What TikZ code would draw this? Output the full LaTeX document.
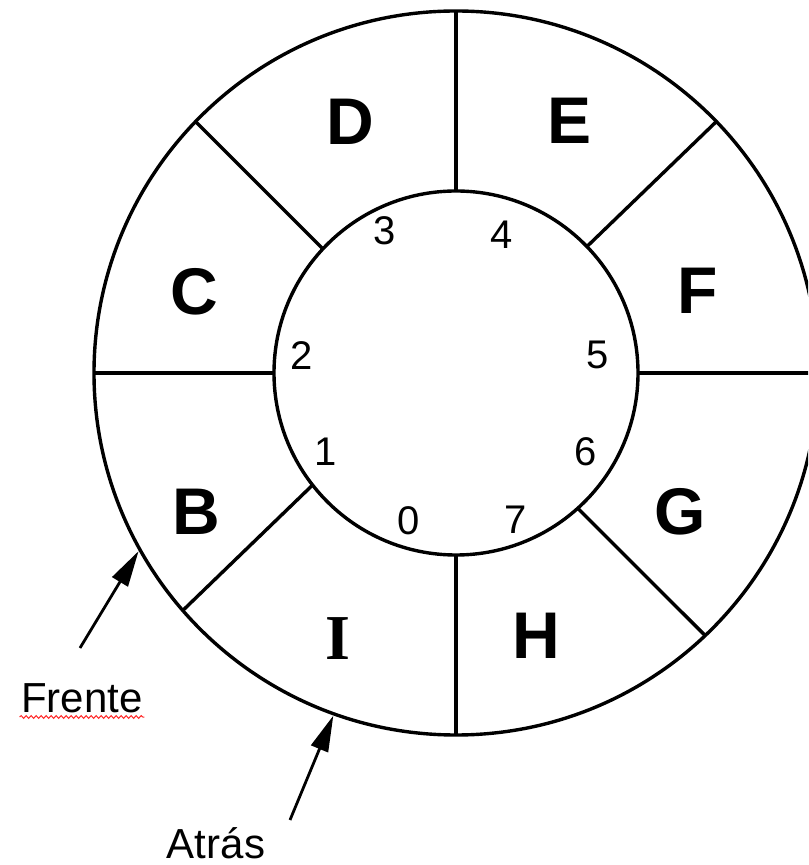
\documentclass[tikz,border=0pt]{standalone}
\usepackage{fontspec}
\setmainfont{Liberation Sans}
\newfontfamily\romanI{Liberation Serif}
\usetikzlibrary{arrows.meta,decorations.pathmorphing}

\begin{document}
\begin{tikzpicture}[x=.5pt,y=.5pt,line width=1.7pt,
  slot/.style={font=\fontsize{33}{33}\selectfont\bfseries,inner sep=0pt},
  idx/.style={font=\fontsize{20}{20}\selectfont,inner sep=0pt},
  ptr/.style={-{Triangle[length=18pt,width=9pt]},line width=1.4pt}]
\clip (-456,-492) rectangle (352,373);
\coordinate (O) at (0,0);
\draw (O) circle (362) (O) circle (182);
\foreach \a/\b in {0/0,44/44,90/90,137/136,180/180,218/221,270/270,312/313.5}
  \draw (\a:182)--(\b:362);
% slots
\node[slot] (D) at (-106,251) {D};
\node[slot] (E) at (114,252) {E};
\node[slot] (C) at (-262,81) {C};
\node[slot] (F) at (242,82) {F};
\node[slot] (B) at (-260,-139) {B};
\node[slot] (G) at (224,-139) {G};
\node[slot] (H) at (80,-263) {H};
\node[slot,font=\fontsize{32}{32}\selectfont\romanI\bfseries] (I) at (-118,-266) {I};
% indices
\node[idx] (i0) at (-47,-148) {0};
\node[idx] (i1) at (-130,-79) {1};
\node[idx] (i2) at (-154,17) {2};
\node[idx] (i3) at (-71,142) {3};
\node[idx] (i4) at (46,138) {4};
\node[idx] (i5) at (142,18) {5};
\node[idx] (i6) at (130,-79) {6};
\node[idx] (i7) at (60,-147) {7};
% pointers
\coordinate (frenteTail) at (-376,-275);
\coordinate (frenteTip) at (209.3:364);
\coordinate (atrasTail) at (-166,-447);
\coordinate (atrasTip) at (250.3:364);
\node[idx,font=\fontsize{21}{21}\selectfont,anchor=base] (frente) at (-374,-339) {Frente};
\node[idx,font=\fontsize{21}{21}\selectfont,anchor=base] (atras) at (-240,-485) {Atrás};
\draw[ptr] (frenteTail)--(frenteTip);
\draw[ptr] (atrasTail)--(atrasTip);
\draw[red!85!white,line width=.5pt,decorate,decoration={snake,amplitude=.7pt,segment length=2.5pt}]
  ([yshift=-2.5pt]frente.base west)--([yshift=-2.5pt]frente.base east);
\end{tikzpicture}
\end{document}
